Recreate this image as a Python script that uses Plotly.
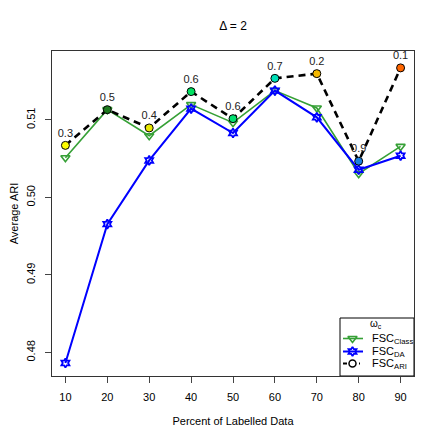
import plotly.graph_objects as go

pct_labelled = [10, 20, 30, 40, 50, 60, 70, 80, 90]
fsc_class = [0.50513, 0.51133, 0.50797, 0.51198, 0.50965, 0.51379, 0.51155, 0.50306, 0.50659]
fsc_da = [0.47864, 0.49656, 0.50478, 0.51146, 0.50832, 0.51379, 0.51034, 0.50358, 0.50539]
fsc_ari = [0.50672, 0.51133, 0.50897, 0.51366, 0.51017, 0.51537, 0.51598, 0.50468, 0.51672]
omega_labels = ["0.3", "0.5", "0.4", "0.6", "0.6", "0.7", "0.2", "0.9", "0.1"]
omega_colors = ["#ffff00", "#1e7a1e", "#e8e800", "#00e060", "#00e070", "#00e0b8",
                "#f5b800", "#1a7fe0", "#ff6600"]
y_ticks = [0.48, 0.49, 0.50, 0.51]
x_ticks = [10, 20, 30, 40, 50, 60, 70, 80, 90]
series_names = ["FSC<sub>Class</sub>", "FSC<sub>DA</sub>", "FSC<sub>ARI</sub>"]
legend_title = "ω<sub>c</sub>"

FONT = "Liberation Sans, Arial, sans-serif"
GREEN = "#36a036"
BLUE = "#0000ff"

# page body has an 8px margin: figure is drawn at (8, 8)
OFF = 8
W = H = 441 - OFF
# plot area in screen pixels (reference)
L, R, T, B = 52, 414, 51, 376


def px(x):
    return (x - L) / (R - L)


def py(y):
    return (B - y) / (B - T)


fig = go.Figure()
fig.add_trace(go.Scatter(
    x=pct_labelled, y=fsc_class, mode="lines+markers", name=series_names[0],
    line=dict(color=GREEN, width=1.6),
    marker=dict(symbol="triangle-down-open", size=8, color=GREEN, line=dict(width=1.6)),
))
fig.add_trace(go.Scatter(
    x=pct_labelled, y=fsc_da, mode="lines+markers", name=series_names[1],
    line=dict(color=BLUE, width=2),
    marker=dict(symbol="hexagram-open", size=7, color=BLUE, line=dict(width=1.8)),
))
fig.add_trace(go.Scatter(
    x=pct_labelled, y=fsc_ari, mode="lines", name=series_names[2],
    line=dict(color="black", width=2.6, dash="7px,5px"),
))
fig.add_trace(go.Scatter(
    x=pct_labelled, y=fsc_ari, mode="markers+text", showlegend=False,
    text=omega_labels, textposition="top center",
    textfont=dict(family=FONT, size=11, color="#222"),
    marker=dict(symbol="circle", size=8, color=omega_colors, line=dict(color="black", width=1)),
))

# ---- custom compact legend (R style) ----
shapes = [dict(type="rect", xref="paper", yref="paper", x0=px(340), x1=px(414),
               y0=py(376), y1=py(318), line=dict(color="black", width=1),
               fillcolor="white", layer="below")]
legend_rows = [338.5, 351.5, 363.5]
shapes.append(dict(type="line", xref="paper", yref="paper", x0=px(343), x1=px(363),
                   y0=py(legend_rows[0]), y1=py(legend_rows[0]),
                   line=dict(color=GREEN, width=1.6), layer="below"))
shapes.append(dict(type="line", xref="paper", yref="paper", x0=px(343), x1=px(363),
                   y0=py(legend_rows[1]), y1=py(legend_rows[1]),
                   line=dict(color=BLUE, width=2), layer="below"))
shapes.append(dict(type="line", xref="paper", yref="paper", x0=px(343), x1=px(360),
                   y0=py(legend_rows[2]), y1=py(legend_rows[2]),
                   line=dict(color="black", width=2.2, dash="4px,4px"), layer="below"))

annotations = [dict(text=legend_title, xref="paper", yref="paper", x=px(376), y=py(324),
                    xanchor="center", yanchor="middle", showarrow=False,
                    font=dict(size=10, family=FONT))]
for name, row in zip(series_names, legend_rows):
    annotations.append(dict(text=name, xref="paper", yref="paper", x=px(370), y=py(row),
                            xanchor="left", yanchor="middle", showarrow=False,
                            font=dict(size=11, family=FONT)))

# legend marker samples on an overlay axis spanning the plot area (0..1)
legend_symbols = [
    dict(symbol="triangle-down-open", size=8, color=GREEN, line=dict(width=1.6, color=GREEN)),
    dict(symbol="hexagram-open", size=7, color=BLUE, line=dict(width=1.8, color=BLUE)),
    dict(symbol="circle", size=7, color="white", line=dict(width=1.5, color="black")),
]
for sym, row in zip(legend_symbols, legend_rows):
    fig.add_trace(go.Scatter(x=[px(352.5)], y=[py(row)], xaxis="x2", yaxis="y2",
                             mode="markers", marker=sym, showlegend=False, hoverinfo="skip"))

fig.update_layout(
    width=W, height=H,
    margin=dict(l=L - OFF, r=441 - R, t=T - OFF, b=441 - B),
    paper_bgcolor="white", plot_bgcolor="white",
    font=dict(family=FONT, size=11, color="black"),
    showlegend=False,
    title=dict(text="Δ = 2", x=(233 - OFF) / W, xanchor="center", xref="container",
               y=1 - (26 - OFF) / H, yref="container", yanchor="middle", font=dict(size=12)),
    shapes=shapes, annotations=annotations,
    xaxis2=dict(overlaying="x", range=[0, 1], visible=False, fixedrange=True),
    yaxis2=dict(overlaying="y", range=[0, 1], visible=False, fixedrange=True),
)
fig.update_layout(xaxis=dict(
    range=[6.8, 93.2], tickvals=x_ticks, ticks="outside", ticklen=6, tickcolor="#444",
    showline=True, mirror=True, linecolor="#333", linewidth=1, showgrid=False, zeroline=False,
    title=dict(text="Percent of Labelled Data", standoff=15, font=dict(size=11)),
    tickfont=dict(size=11), ticklabelstandoff=5, automargin=False,
))
fig.update_layout(yaxis=dict(
    range=[0.47696, 0.5189], tickvals=y_ticks, ticktext=["0.48", "0.49", "0.50", "0.51"],
    ticks="outside", ticklen=6, tickcolor="#444", tickangle=-90,
    showline=True, mirror=True, linecolor="#333", linewidth=1, showgrid=False, zeroline=False,
    title=dict(text="Average ARI", standoff=15, font=dict(size=11)),
    tickfont=dict(size=11), ticklabelstandoff=6, automargin=False,
))
fig.write_html("out.html")
